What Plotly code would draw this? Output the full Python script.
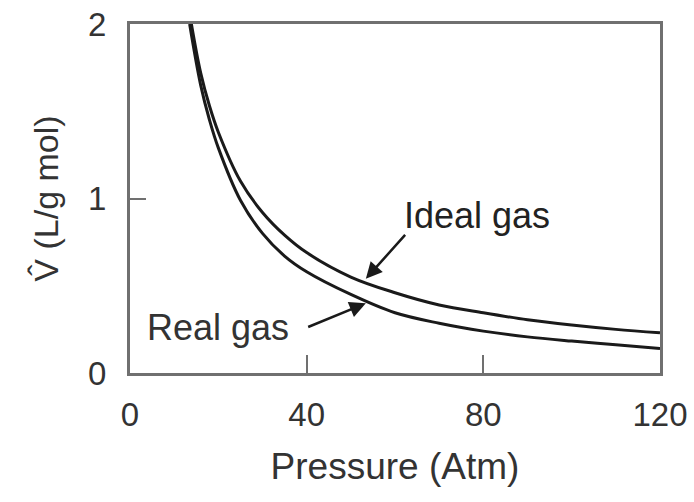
import plotly.graph_objects as go

# Data
pressure_ideal = [13.9, 16, 18, 20, 25, 30, 35, 40, 50, 60, 70, 80, 90, 100, 110, 120]
v_ideal = [2.00, 1.72, 1.53, 1.38, 1.10, 0.92, 0.79, 0.69, 0.55, 0.46, 0.39, 0.345, 0.305, 0.275, 0.25, 0.23]

pressure_real = [13.5, 16, 18, 20, 25, 30, 35, 40, 50, 60, 70, 80, 90, 100, 110, 120]
v_real = [2.00, 1.65, 1.45, 1.29, 0.99, 0.80, 0.67, 0.58, 0.45, 0.345, 0.285, 0.24, 0.207, 0.183, 0.162, 0.14]

x_ticks = [0, 40, 80, 120]
y_ticks = [0, 1, 2]

FONT = "Liberation Sans, Arial, sans-serif"
AX = "#707070"

fig = go.Figure()
fig.add_trace(go.Scatter(x=pressure_ideal, y=v_ideal, mode="lines", name="Ideal gas",
                         line=dict(color="#1a1a1a", width=3, shape="spline"), showlegend=False))
fig.add_trace(go.Scatter(x=pressure_real, y=v_real, mode="lines", name="Real gas",
                         line=dict(color="#1a1a1a", width=3, shape="spline"), showlegend=False))

fig.add_annotation(x=53.4, y=0.54, ax=62.6, ay=0.80, xref="x", yref="y", axref="x", ayref="y",
                   text="", showarrow=True, arrowhead=2, arrowsize=1.3, arrowwidth=2.5, arrowcolor="#1a1a1a")
fig.add_annotation(x=61.5, y=0.90, xref="x", yref="y", text="Ideal gas", showarrow=False,
                   xanchor="left", yanchor="middle", font=dict(family=FONT, size=36, color="#222"))

fig.add_annotation(x=53.4, y=0.40, ax=40.0, ay=0.26, xref="x", yref="y", axref="x", ayref="y",
                   text="", showarrow=True, arrowhead=2, arrowsize=1.3, arrowwidth=2.5, arrowcolor="#1a1a1a")
fig.add_annotation(x=3.3, y=0.26, xref="x", yref="y", text="Real gas", showarrow=False,
                   xanchor="left", yanchor="middle", font=dict(family=FONT, size=36, color="#333"))

fig.update_layout(
    width=694, height=502,
    margin=dict(l=130, r=34, t=24, b=129),
    plot_bgcolor="white", paper_bgcolor="white",
    font=dict(family=FONT, size=33, color="#333"),
    xaxis=dict(range=[0, 120], tickvals=x_ticks, ticktext=[str(t) for t in x_ticks],
               showgrid=False, zeroline=False, showline=True, linecolor=AX, linewidth=3,
               mirror=True, ticks="inside", ticklen=18, tickwidth=2, tickcolor=AX,
               ticklabelstandoff=10, ticklabeloverflow="allow", automargin=False,
               title=dict(text="Pressure (Atm)", font=dict(size=37), standoff=22)),
    yaxis=dict(range=[0, 2], tickvals=y_ticks, ticktext=[str(t) for t in y_ticks],
               showgrid=False, zeroline=False, showline=True, linecolor=AX, linewidth=3,
               mirror=True, ticks="inside", ticklen=16, tickwidth=2, tickcolor=AX,
               ticklabelstandoff=14, automargin=False,
               title=dict(text="V\u0302 (L/g mol)", font=dict(size=34), standoff=20)),
)

fig.write_html("out.html")
